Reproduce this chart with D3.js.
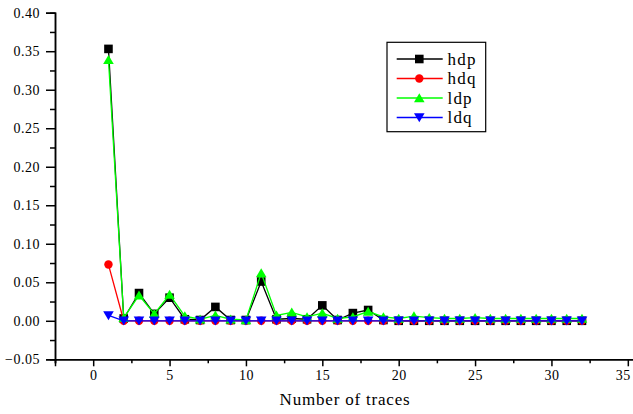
<!DOCTYPE html>
<html>
<head>
<meta charset="utf-8">
<script src="https://cdn.jsdelivr.net/npm/d3@7/dist/d3.min.js"></script>
<style>
  html, body { margin: 0; padding: 0; background: #fff; }
  svg { display: block; }
</style>
</head>
<body>
<svg id="chart" width="633" height="414"></svg>
<script>
const traces = [1, 2, 3, 4, 5, 6, 7, 8, 9, 10, 11, 12, 13, 14, 15, 16,
  17, 18, 19, 20, 21, 22, 23, 24, 25, 26, 27, 28, 29, 30, 31, 32];

const hdp = [0.353, 0.003, 0.036, 0.009, 0.030, 0.002, 0.001, 0.018, 0.001, 0.001, 0.051, 0.002, 0.003, 0.002, 0.020, 0.001,
  0.010, 0.014, 0.001, 0.000, 0.000, 0.000, 0.000, 0.000, 0.000, 0.000, 0.000, 0.000, 0.000, 0.000, 0.000, 0.000];
const hdq = [0.073, 0.000, 0.000, 0.000, 0.000, 0.000, 0.000, 0.000, 0.000, 0.000, 0.000, 0.000, 0.000, 0.000, 0.000, 0.000,
  0.000, 0.000, 0.000, 0.000, 0.000, 0.000, 0.000, 0.000, 0.000, 0.000, 0.000, 0.000, 0.000, 0.000, 0.000, 0.000];
const ldp = [0.339, 0.004, 0.033, 0.009, 0.034, 0.006, 0.002, 0.007, 0.002, 0.001, 0.062, 0.007, 0.011, 0.005, 0.010, 0.003,
  0.005, 0.012, 0.005, 0.003, 0.006, 0.004, 0.003, 0.003, 0.004, 0.003, 0.003, 0.003, 0.003, 0.003, 0.003, 0.003];
const ldq = [0.007, 0.000, 0.000, 0.000, 0.000, 0.000, 0.000, 0.000, 0.000, 0.000, 0.000, 0.000, 0.000, 0.000, 0.000, 0.000,
  0.000, 0.000, 0.000, 0.000, 0.000, 0.000, 0.000, 0.000, 0.000, 0.000, 0.000, 0.000, 0.000, 0.000, 0.000, 0.000];

const xTicks = [0, 5, 10, 15, 20, 25, 30, 35];
const yTicks = [-0.05, 0.00, 0.05, 0.10, 0.15, 0.20, 0.25, 0.30, 0.35, 0.40];

const series = [
  { name: 'hdp', values: hdp, color: '#000000', marker: 'square' },
  { name: 'hdq', values: hdq, color: '#ff0000', marker: 'circle' },
  { name: 'ldp', values: ldp, color: '#00ff00', marker: 'up' },
  { name: 'ldq', values: ldq, color: '#0000ff', marker: 'down' }
];

const svg = d3.select('#chart');
const font = '"Liberation Serif", "Times New Roman", serif';

const x = d3.scaleLinear().domain([-2.5, 37.5]).range([55, 666]);
const y = d3.scaleLinear().domain([-0.05, 0.40]).range([359.3, 12.7]);

function markerPath(type) {
  if (type === 'square') return 'M-4.3,-4.3H4.3V4.3H-4.3Z';
  if (type === 'up') return 'M0,-4.8L5.3,4.2H-5.3Z';
  if (type === 'down') return 'M0,4.8L5.3,-4.2H-5.3Z';
  return d3.symbol(d3.symbolCircle, 56)();
}

// axes
const yAxis = d3.axisLeft(y).tickValues(yTicks).tickSize(9).tickPadding(6)
  .tickFormat(d3.format('.2f'));
const yMinor = d3.axisLeft(y).tickValues(yTicks.slice(0, -1).map(v => v + 0.025))
  .tickSize(5).tickFormat('');
const xAxis = d3.axisBottom(x).tickValues(xTicks).tickSize(7).tickPadding(4);
const xMinor = d3.axisBottom(x).tickValues([-2.5, 2.5, 7.5, 12.5, 17.5, 22.5, 27.5, 32.5, 37.5])
  .tickSize(4).tickFormat('');

function styleAxis(g) {
  g.select('.domain').attr('stroke', '#000').attr('stroke-width', 1.5);
  g.selectAll('.tick line').attr('stroke', '#000').attr('stroke-width', 1.5);
  g.selectAll('.tick text').attr('font-family', font).attr('font-size', 14)
    .attr('letter-spacing', 0.5).attr('fill', '#000');
}

svg.append('g').attr('transform', 'translate(0,359.3)').call(xMinor).call(styleAxis);
const gx = svg.append('g').attr('transform', 'translate(0,359.3)').call(xAxis).call(styleAxis);
// the last label sits at the picture edge
gx.selectAll('.tick text').filter(d => d === 35).attr('dx', -5);
svg.append('g').attr('transform', 'translate(55,0)').call(yMinor).call(styleAxis);
svg.append('g').attr('transform', 'translate(55,0)').call(yAxis).call(styleAxis);

svg.append('text')
  .attr('x', 345).attr('y', 405)
  .attr('text-anchor', 'middle')
  .attr('font-family', font).attr('font-size', 17).attr('letter-spacing', 0.8)
  .text('Number of traces');

// lines and markers
const line = d3.line().x(d => x(d.t)).y(d => y(d.v));

series.forEach(s => {
  const pts = traces.map((t, i) => ({ t, v: s.values[i] }));
  svg.append('path')
    .datum(pts)
    .attr('fill', 'none')
    .attr('stroke', s.color)
    .attr('stroke-width', 1.3)
    .attr('d', line);
  svg.append('g').selectAll('path')
    .data(pts)
    .join('path')
    .attr('transform', d => `translate(${x(d.t)},${y(d.v)})`)
    .attr('d', markerPath(s.marker))
    .attr('fill', s.color);
});

// legend
const legend = svg.append('g');
legend.append('rect')
  .attr('x', 387).attr('y', 42.3).attr('width', 98.7).attr('height', 89.4)
  .attr('fill', '#fff').attr('stroke', '#000').attr('stroke-width', 1.2);

series.forEach((s, i) => {
  const ly = 59 + i * 19.5;
  legend.append('line')
    .attr('x1', 396.7).attr('x2', 442.7).attr('y1', ly).attr('y2', ly)
    .attr('stroke', s.color).attr('stroke-width', 1.3);
  legend.append('path')
    .attr('transform', `translate(419.3,${ly})`)
    .attr('d', markerPath(s.marker))
    .attr('fill', s.color);
  legend.append('text')
    .attr('x', 447.5).attr('y', ly + 5.5)
    .attr('font-family', font).attr('font-size', 17).attr('letter-spacing', 1.2)
    .text(s.name);
});
</script>
</body>
</html>
